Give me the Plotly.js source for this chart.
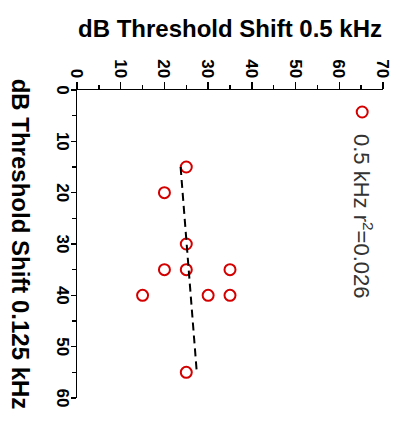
<!DOCTYPE html>
<html><head><meta charset="utf-8">
<script src="https://cdn.plot.ly/plotly-3.0.1.min.js"></script>
<style>
html,body{margin:0;padding:0;background:#fff;overflow:hidden;width:411px;height:423px}
#wrap{position:absolute;left:0;top:0;width:423px;height:411px;transform-origin:0 0;transform:translate(411px,0) rotate(90deg);}
</style></head><body><div id="wrap"></div>
<script>
// 0.125 kHz threshold shift (horizontal axis of the unrotated chart)
const shift125 = [15, 20, 30, 35, 35, 35, 40, 40, 40, 55];
// 0.5 kHz threshold shift
const shift500 = [25, 20, 25, 20, 25, 35, 15, 30, 35, 25];
// regression line end points
const fit125 = [15, 55];
const fit500 = [23.7, 27.4];
const xTicks = [0, 10, 20, 30, 40, 50, 60];
const yTicks = [0, 10, 20, 30, 40, 50, 60, 70];
const xTitle = 'dB Threshold Shift 0.125 kHz';
const yTitle = 'dB Threshold Shift 0.5 kHz';
const legendLabel = '0.5 kHz r<sup>2</sup>=0.026';

const red = '#d40000';
const traces = [
  {x: shift125, y: shift500, type: 'scatter', mode: 'markers', name: legendLabel,
   marker: {symbol: 'circle-open', size: 11, color: red, line: {color: red, width: 2}}},
  {x: fit125, y: fit500, type: 'scatter', mode: 'lines', showlegend: false, hoverinfo: 'skip',
   line: {color: '#000', width: 2, dash: '8px,5px'}}
];
const axisBase = {
  showline: true, linecolor: '#000', linewidth: 1.5, mirror: false,
  showgrid: false, zeroline: false, ticks: 'outside', ticklen: 7, tickwidth: 1.5, tickcolor: '#000',
  tickfont: {size: 17, weight: 'bold', color: '#000'},
  minor: {dtick: 5, ticks: 'outside', ticklen: 4, tickwidth: 1.5, tickcolor: '#000', showgrid: false},
  automargin: false, fixedrange: true
};
const layout = {
  width: 423, height: 411,
  margin: {l: 90, r: 25, t: 28, b: 77},
  paper_bgcolor: '#fff', plot_bgcolor: '#fff',
  font: {family: 'Liberation Sans, Arial, sans-serif', color: '#000'},
  showlegend: true,
  legend: {x: 0, y: 1.0, xanchor: 'left', yanchor: 'top', bgcolor: 'rgba(0,0,0,0)',
           itemwidth: 34, font: {size: 22, color: '#333'}},
  xaxis: Object.assign({}, axisBase, {range: [0, 60], tickvals: xTicks, ticktext: xTicks.map(String),
    ticklen: 5, ticklabelstandoff: -7,
    title: {text: xTitle, font: {size: 24, weight: 'bold'}, standoff: 25}}),
  yaxis: Object.assign({}, axisBase, {range: [0, 70], tickvals: yTicks, ticktext: yTicks.map(String),
    title: {text: yTitle, font: {size: 24, weight: 'bold'}, standoff: 15}})
};
Plotly.newPlot('wrap', traces, layout, {displayModeBar: false, staticPlot: true});
</script></body></html>
